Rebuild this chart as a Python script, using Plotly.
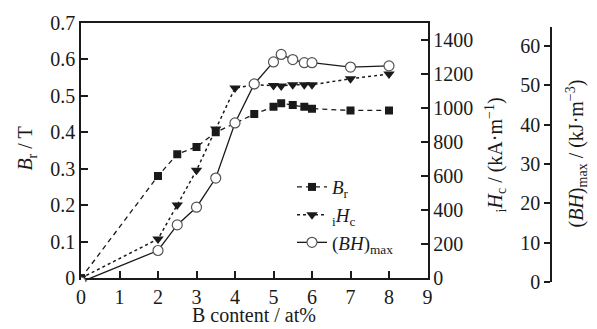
import plotly.graph_objects as go

# ---- data ----
x_br = [0, 2, 2.5, 3, 3.5, 4.5, 5.0, 5.2, 5.5, 5.8, 6.0, 7, 8]
br = [0, 0.28, 0.34, 0.36, 0.40, 0.45, 0.47, 0.48, 0.475, 0.47, 0.465, 0.46, 0.46]

x_hc = [0, 2, 2.5, 3, 3.5, 4, 4.5, 5.0, 5.2, 5.5, 5.8, 6.0, 7, 8]
hc = [0, 230, 430, 634, 876, 1118, 1137, 1133, 1130, 1137, 1137, 1137, 1172, 1200]

x_bh = [0, 2, 2.5, 3, 3.5, 4, 4.5, 5.0, 5.2, 5.5, 5.8, 6.0, 7, 8]
bh = [0, 8.0, 14.5, 19.0, 26.4, 40.4, 50.3, 55.9, 57.8, 56.5, 55.7, 55.7, 54.6, 54.9]

x_ticks = [0, 1, 2, 3, 4, 5, 6, 7, 8, 9]
y1_ticks = [0, 0.1, 0.2, 0.3, 0.4, 0.5, 0.6, 0.7]
y1_labels = ["0", "0.1", "0.2", "0.3", "0.4", "0.5", "0.6", "0.7"]
y2_ticks = [0, 200, 400, 600, 800, 1000, 1200, 1400]
y3_ticks = [0, 10, 20, 30, 40, 50, 60]

FONT = "Liberation Serif, Times New Roman, serif"
INK = "#1a1a1a"

# ---- pixel geometry helpers (layout only) ----
W, H = 597, 329
L, R, T, B = 81, 37, 16, 47          # paper spans x 81..560, y 16..282
pw, ph = W - L - R, H - T - B
x_right = (427.5 - L) / pw
y_bottom_main = (282 - 278) / ph
y_top_third = (282 - 20) / ph
x_third = (551 - L) / pw

fig = go.Figure()

fig.add_trace(go.Scatter(
    x=x_br, y=br, name="<i>B</i><sub>r</sub>", mode="lines+markers",
    line=dict(color=INK, width=1.3, dash="5px,4px"),
    marker=dict(symbol="square", size=8, color=INK),
    xaxis="x", yaxis="y"))

fig.add_trace(go.Scatter(
    x=x_hc, y=hc, name="<sub>i</sub><i>H</i><sub>c</sub>", mode="lines+markers",
    line=dict(color=INK, width=1.5, dash="dot"),
    marker=dict(symbol="triangle-down", size=10, color=INK),
    xaxis="x", yaxis="y2"))

fig.add_trace(go.Scatter(
    x=x_bh, y=bh, name="(<i>BH</i>)<sub>max</sub>", mode="lines+markers",
    line=dict(color=INK, width=1.3),
    marker=dict(symbol="circle", size=10, color="white",
                line=dict(color="#555", width=1.2)),
    xaxis="x", yaxis="y3"))

axis_common = dict(showgrid=False, zeroline=False, showline=True,
                   linecolor=INK, linewidth=1.5, tickcolor=INK,
                   tickfont=dict(family=FONT, size=20, color=INK))

fig.update_layout(
    width=W, height=H,
    margin=dict(l=L, r=R, t=T, b=B, pad=0),
    paper_bgcolor="white", plot_bgcolor="rgba(0,0,0,0)",
    font=dict(family=FONT, color=INK),
    xaxis=dict(axis_common, domain=[0, x_right], range=[0, 9],
               tickvals=x_ticks, ticks="inside", ticklen=7, tickwidth=1.5,
               mirror=True, anchor="y"),
    yaxis=dict(axis_common, domain=[y_bottom_main, 1], range=[0, 0.7],
               tickvals=y1_ticks, ticktext=y1_labels,
               ticks="inside", ticklen=7, tickwidth=1.5, anchor="x"),
    yaxis2=dict(axis_common, overlaying="y", side="right", range=[0, 1500],
                tickvals=y2_ticks, ticks="inside", ticklen=7, tickwidth=1.5,
                anchor="x"),
    yaxis3=dict(axis_common, domain=[0, y_top_third], range=[0, 64.8],
                tickvals=y3_ticks, ticks="outside", ticklen=6, tickwidth=1.5,
                anchor="free", position=x_third, side="left"),
    showlegend=True,
    legend=dict(x=(292 - L) / pw, y=(282 - 165) / ph, xanchor="left",
                yanchor="top", bgcolor="rgba(0,0,0,0)",
                font=dict(family=FONT, size=19, color=INK),
                tracegroupgap=0, itemwidth=30),
)

# axis titles
ann_font = dict(family=FONT, size=20, color=INK)
fig.add_annotation(text="<i>B</i><sub>r</sub> / T", xref="paper", yref="paper",
                   x=(27 - L) / pw, y=(282 - 145) / ph, textangle=-90,
                   xanchor="center", yanchor="middle",
                   showarrow=False, font=ann_font)
fig.add_annotation(text="<sub>i</sub><i>H</i><sub>c</sub> / (kA·m<sup>−1</sup>)",
                   xref="paper", yref="paper",
                   x=(496 - L) / pw, y=(282 - 152) / ph, textangle=-90,
                   xanchor="center", yanchor="middle",
                   showarrow=False, font=ann_font)
fig.add_annotation(text="(<i>BH</i>)<sub>max</sub> / (kJ·m<sup>−3</sup>)",
                   xref="paper", yref="paper",
                   x=(577 - L) / pw, y=(282 - 150) / ph, textangle=-90,
                   xanchor="center", yanchor="middle",
                   showarrow=False, font=ann_font)
fig.add_annotation(text="B content / at%", xref="paper", yref="paper",
                   x=(254 - L) / pw, y=(282 - 316) / ph,
                   xanchor="center", yanchor="middle",
                   showarrow=False, font=ann_font)

fig.write_html("out.html")
